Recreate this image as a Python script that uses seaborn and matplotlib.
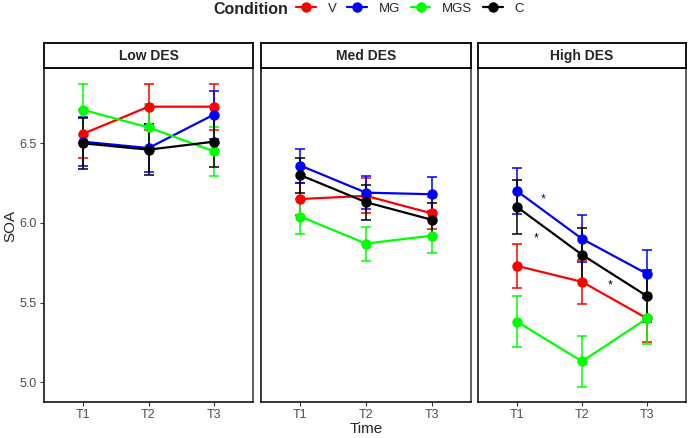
import numpy as np
import pandas as pd
import matplotlib
matplotlib.use("Agg")
import matplotlib.pyplot as plt
from matplotlib.lines import Line2D
import seaborn as sns

# ---- data ----
panels = ["Low DES", "Med DES", "High DES"]
times = ["T1", "T2", "T3"]
conditions = ["V", "MG", "MGS", "C"]
colors = {"V": "#FF0000", "MG": "#0000FF", "MGS": "#00FF00", "C": "#000000"}

# mean SOA per panel, one list per condition (T1, T2, T3)
low_means = {"V": [6.56, 6.73, 6.73], "MG": [6.51, 6.47, 6.68],
             "MGS": [6.71, 6.60, 6.45], "C": [6.50, 6.46, 6.51]}
low_se = {"V": [0.15, 0.145, 0.145], "MG": [0.155, 0.15, 0.15],
          "MGS": [0.16, 0.15, 0.155], "C": [0.16, 0.16, 0.16]}

med_means = {"V": [6.15, 6.17, 6.06], "MG": [6.36, 6.19, 6.18],
             "MGS": [6.04, 5.87, 5.92], "C": [6.30, 6.13, 6.02]}
med_se = {"V": [0.10, 0.11, 0.10], "MG": [0.107, 0.105, 0.108],
          "MGS": [0.107, 0.107, 0.107], "C": [0.11, 0.11, 0.105]}

high_means = {"V": [5.73, 5.63, 5.40], "MG": [6.20, 5.90, 5.68],
              "MGS": [5.38, 5.13, 5.40], "C": [6.10, 5.80, 5.54]}
high_se = {"V": [0.14, 0.14, 0.145], "MG": [0.147, 0.147, 0.15],
           "MGS": [0.162, 0.16, 0.16], "C": [0.168, 0.165, 0.165]}

# significance stars: (panel, x position between times, y, colour)
star_panel = ["High DES", "High DES", "High DES"]
star_x = [0.40, 0.30, 1.43]
star_y = [6.15, 5.90, 5.61]
star_cond = ["MG", "C", "C"]

rows = []
for pname, means, ses in [("Low DES", low_means, low_se),
                          ("Med DES", med_means, med_se),
                          ("High DES", high_means, high_se)]:
    for cond in conditions:
        for i, t in enumerate(times):
            rows.append({"DES": pname, "Condition": cond, "Time": t,
                         "xi": i, "SOA": means[cond][i], "se": ses[cond][i]})
df = pd.DataFrame(rows)

# ---- figure ----
sns.set_style("white")
plt.rcParams["font.family"] = ["Liberation Sans", "DejaVu Sans"]

W, H = 688, 438
fig = plt.figure(figsize=(W / 100, H / 100), dpi=100)

panel_x = [(44, 253), (261, 471), (478, 686)]
top, bottom = 68, 402
strip_top = 43
tick_grey = "#4D4D4D"

for k, pname in enumerate(panels):
    x0, x1 = panel_x[k]
    ax = fig.add_axes([x0 / W, 1 - bottom / H, (x1 - x0) / W, (bottom - top) / H])
    sub = df[df["DES"] == pname]

    # error bars first, then lines + points
    for cond in conditions:
        s = sub[sub["Condition"] == cond]
        ax.errorbar(s["xi"], s["SOA"], yerr=s["se"], fmt="none",
                    ecolor=colors[cond], elinewidth=1.1, capsize=3.5,
                    capthick=1.1, zorder=2)
    sns.lineplot(data=sub, x="xi", y="SOA", hue="Condition",
                 hue_order=conditions, palette=colors, linewidth=1.6,
                 marker="o", markersize=7.5, markeredgewidth=0,
                 legend=False, ax=ax, zorder=3)

    for px, sx, sy, sc in zip(star_panel, star_x, star_y, star_cond):
        if px == pname:
            ax.text(sx, sy, "*", color=colors[sc], ha="center", va="center",
                    fontsize=9)

    ax.set_xlim(-0.6, 2.6)
    ax.set_ylim(4.875, 6.973)
    ax.set_xticks(range(len(times)))
    ax.set_xticklabels(times)
    ax.set_xlabel("")
    ax.set_ylabel("")
    ax.tick_params(axis="both", colors="#333333", labelcolor=tick_grey,
                   labelsize=9, length=3, width=0.8, pad=2,
                   direction="out", bottom=True, left=True)
    for sp in ax.spines.values():
        sp.set_color("#333333")
        sp.set_linewidth(1.1)
    ax.spines["left"].set_color("black")
    ax.spines["bottom"].set_color("black")
    ax.set_yticks([5.0, 5.5, 6.0, 6.5])
    if k == 0:
        ax.set_yticklabels(["5.0", "5.5", "6.0", "6.5"])
    else:
        ax.tick_params(axis="y", left=False, labelleft=False)

    # facet strip
    sax = fig.add_axes([x0 / W, 1 - top / H, (x1 - x0) / W, (top - strip_top) / H])
    sax.set_xticks([])
    sax.set_yticks([])
    for sp in sax.spines.values():
        sp.set_color("black")
        sp.set_linewidth(1.3)
    sax.text(0.5, 0.48, pname, ha="center", va="center", fontsize=10,
             fontweight="bold", transform=sax.transAxes)

fig.text(10 / W, 1 - 226 / H, "SOA", rotation=90, ha="center", va="center",
         fontsize=11)
fig.text(366 / W, 1 - 429 / H, "Time", ha="center", va="center", fontsize=11)

# legend across the top
fig.text(288 / W, 1 - 9 / H, "Condition", ha="right", va="center",
         fontsize=11.5, fontweight="bold")
handles = [Line2D([0], [0], color=colors[c], lw=1.6, marker="o",
                  markersize=7.5, markeredgewidth=0) for c in conditions]
fig.legend(handles, conditions, loc="center left",
           bbox_to_anchor=(296 / W, 1 - 9 / H), ncol=4, frameon=False,
           fontsize=9.5, handlelength=1.5, handletextpad=0.9,
           columnspacing=0.8, borderaxespad=0, borderpad=0)

fig.savefig("out.png", dpi=100)
